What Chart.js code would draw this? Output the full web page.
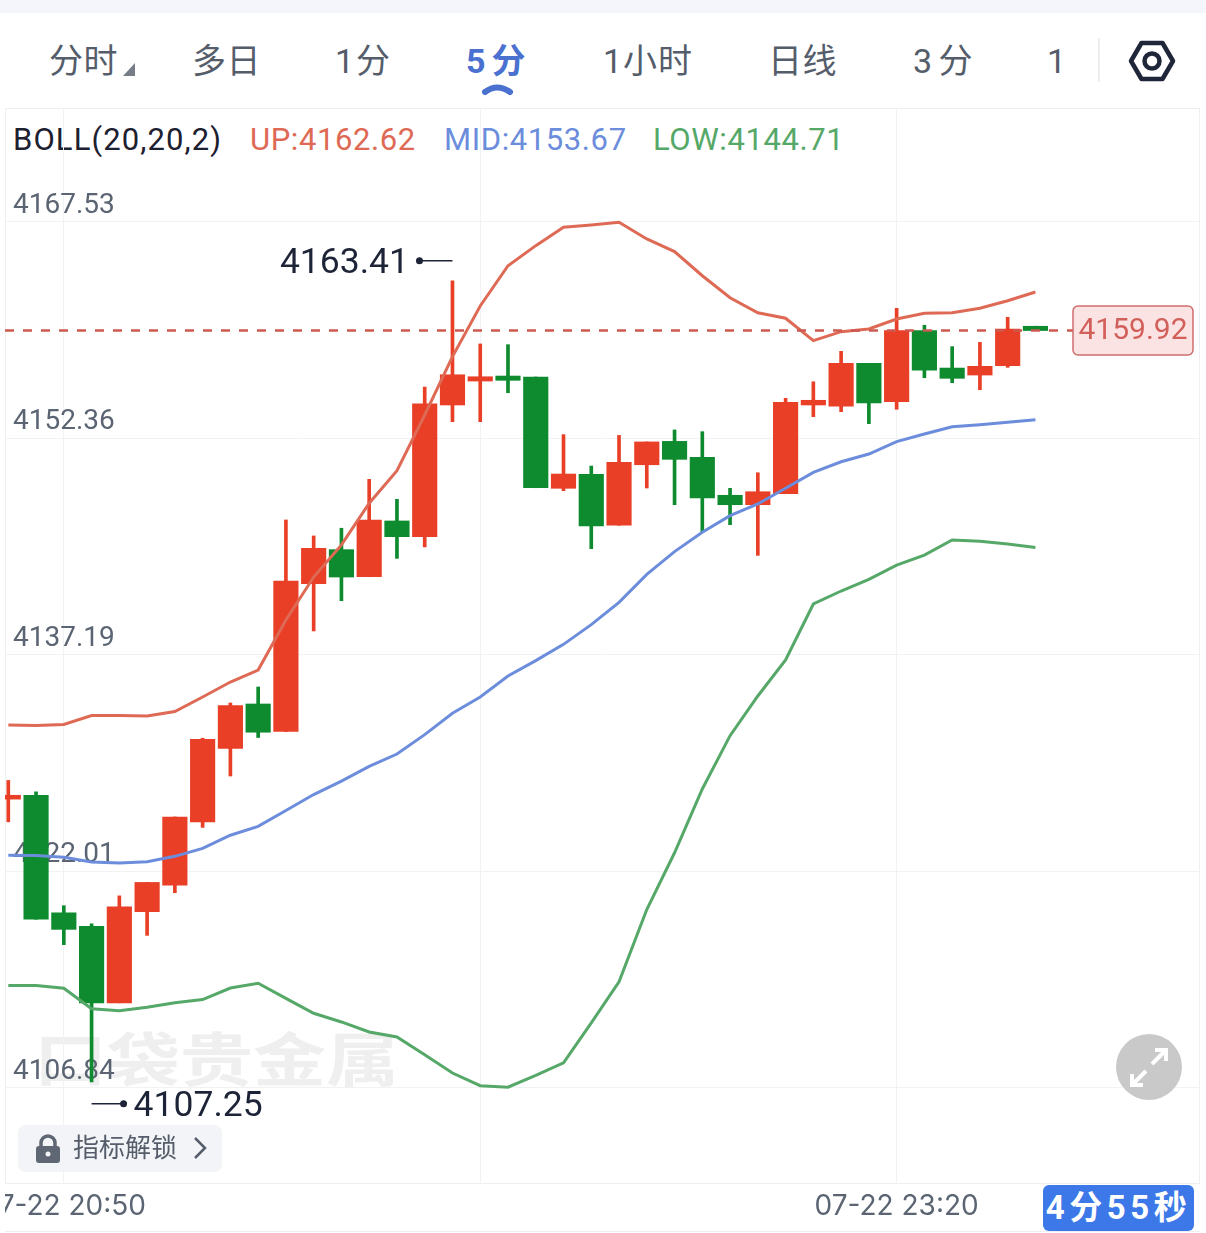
<!DOCTYPE html>
<html>
<head>
<meta charset="utf-8">
<script src="https://cdn.jsdelivr.net/npm/chart.js@4/dist/chart.umd.min.js"></script>
<style>
  html, body { margin: 0; padding: 0; background: #fff; }
  body { position: relative; width: 1206px; height: 1233px; overflow: hidden;
         font-family: Roboto, "Noto Sans CJK SC", sans-serif; }
  .abs { position: absolute; white-space: nowrap; }
  .topstrip { left: 0; top: 0; width: 1206px; height: 13px; background: #f4f6fb; }
  .tab { top: 38px; line-height: 46px; font-size: 34px; color: #555d6b; letter-spacing: 0.5px; }
  .tab.active { color: #4a70d0; font-weight: 700; letter-spacing: 6px; }
  .legend { top: 121px; line-height: 38px; font-size: 31px; letter-spacing: 0.6px; }
  .watermark { left: 34px; top: 1017px; font-size: 73px; line-height: 88px; font-weight: 700;
               color: #efefef; transform: scaleY(0.8); }
  .unlock { left: 18px; top: 1125px; width: 204px; height: 47px; border-radius: 7px; background: #f3f4f7; }
  .unlock span { position: absolute; left: 55px; top: 0; line-height: 47px; font-size: 26px; color: #555d6b; }
  .timer { left: 1043px; top: 1185px; width: 151px; height: 46px; border-radius: 6px; background: #3c78e8;
           color: #fff; font-weight: 700; font-size: 33px; line-height: 46px; text-align: center; letter-spacing: 4.5px; }
  .baseline { left: 5px; top: 1231px; width: 1195px; height: 1px; background: #eceef1; }
  canvas { position: absolute; left: 5px; top: 108px; }
  svg { position: absolute; left: 0; top: 0; }
</style>
</head>
<body>
<div class="abs topstrip"></div>
<div class="abs watermark">口袋贵金属</div>

<div class="abs tab" style="left:49px">分时</div>
<div class="abs tab" style="left:192px">多日</div>
<div class="abs tab" style="left:335px;letter-spacing:2px">1分</div>
<div class="abs tab active" style="left:466px">5分</div>
<div class="abs tab" style="left:603px;letter-spacing:1px">1小时</div>
<div class="abs tab" style="left:768px">日线</div>
<div class="abs tab" style="left:913px;letter-spacing:6.5px">3分</div>
<div class="abs tab" style="left:1047px">1</div>

<div class="abs legend" style="left:13px;color:#1c2030;letter-spacing:1.1px">BOLL(20,20,2)</div>
<div class="abs legend" style="left:250px;color:#de6a55">UP:4162.62</div>
<div class="abs legend" style="left:444px;color:#6c8cdc">MID:4153.67</div>
<div class="abs legend" style="left:653px;color:#55a868">LOW:4144.71</div>

<canvas id="kline" width="1195" height="1125"></canvas>

<div class="abs unlock"><span>指标解锁</span></div>
<div class="abs baseline"></div>
<div class="abs timer">4分55秒</div>

<svg width="1206" height="1233" fill="none">
  <!-- dropdown marker, tab separator, active tab marker -->
  <path d="M123 76 L135 76 L135 63 Z" fill="#777d88"/>
  <line x1="1099" y1="38" x2="1099" y2="82" stroke="#eeeeee" stroke-width="2"/>
  <path d="M485 92 Q497 83 510 92" stroke="#4a70d0" stroke-width="6" stroke-linecap="round"/>
  <!-- settings -->
  <path d="M1131 61 L1141.5 43 L1162.5 43 L1173 61 L1162.5 79 L1141.5 79 Z" stroke="#20263a" stroke-width="4.5" stroke-linejoin="round"/>
  <circle cx="1152" cy="61" r="7.5" stroke="#20263a" stroke-width="4.5"/>
  <!-- lock and chevron in the unlock button -->
  <path d="M41 1147 V1143 A7 7 0 0 1 55 1143 V1147" stroke="#5f6775" stroke-width="3.5"/>
  <rect x="36" y="1146" width="24" height="17" rx="3" fill="#5f6775"/>
  <circle cx="48" cy="1154" r="2.5" fill="#f3f4f7"/>
  <path d="M195 1138 L205 1148 L195 1158" stroke="#555d6b" stroke-width="2.5"/>
  <!-- fullscreen button -->
  <circle cx="1149" cy="1067" r="33" fill="#c9c9c9"/>
  <path d="M1155 1050 H1166 V1061 M1166 1050 L1152 1064 M1132 1074 V1085 H1143 M1132 1085 L1146 1071" stroke="#fff" stroke-width="4"/>
</svg>

<script>
// 5 minute candles, oldest first
const opens = [4127.07, 4127.34, 4119.10, 4118.16, 4112.79, 4119.18, 4121.03, 4125.48, 4130.63, 4133.74,
  4131.81, 4142.17, 4144.56, 4142.66, 4146.57, 4145.47, 4154.70, 4156.38, 4156.73, 4156.66,
  4148.86, 4149.84, 4146.27, 4150.51, 4152.15, 4151.03, 4148.37, 4147.71, 4148.48, 4154.70,
  4154.61, 4157.62, 4154.93, 4159.91, 4157.29, 4156.80, 4157.45, 4160.22];
const highs = [4128.38, 4127.58, 4119.60, 4118.32, 4120.29, 4121.23, 4125.82, 4131.34, 4133.81, 4134.93,
  4146.64, 4145.52, 4146.06, 4149.49, 4148.09, 4155.96, 4163.41, 4158.98, 4158.93, 4156.66,
  4152.62, 4150.42, 4152.57, 4152.11, 4152.95, 4152.83, 4148.86, 4149.95, 4155.17, 4156.33,
  4158.46, 4157.62, 4161.48, 4160.29, 4158.79, 4159.09, 4160.85, 4160.22];
const lows = [4125.48, 4118.65, 4116.87, 4107.25, 4112.79, 4117.52, 4120.51, 4125.09, 4128.69, 4131.39,
  4131.81, 4138.86, 4140.98, 4142.66, 4143.95, 4144.75, 4153.53, 4153.53, 4155.56, 4148.90,
  4148.69, 4144.63, 4146.27, 4148.88, 4147.71, 4145.82, 4146.31, 4144.16, 4148.48, 4153.88,
  4154.23, 4153.39, 4154.40, 4156.61, 4156.26, 4155.77, 4157.34, 4159.92];
const closes = [4127.34, 4118.65, 4117.94, 4112.79, 4119.52, 4121.23, 4125.82, 4131.26, 4133.62, 4131.76,
  4142.36, 4144.65, 4142.64, 4146.64, 4145.47, 4154.79, 4156.82, 4156.68, 4156.43, 4148.90,
  4149.86, 4146.22, 4150.68, 4152.11, 4150.89, 4148.18, 4147.71, 4148.62, 4154.89, 4155.03,
  4157.62, 4154.84, 4159.91, 4157.15, 4156.57, 4157.41, 4160.03, 4159.92];

// BOLL(20,20,2) bands
const bollUp = [4132.27, 4132.23, 4132.30, 4132.93, 4132.93, 4132.90, 4133.21, 4134.23, 4135.28, 4136.12,
  4139.63, 4142.64, 4144.89, 4147.81, 4150.09, 4154.00, 4158.09, 4161.64, 4164.46, 4165.87,
  4167.16, 4167.32, 4167.51, 4166.34, 4165.45, 4163.76, 4162.22, 4161.17, 4160.78, 4159.21,
  4159.84, 4160.03, 4160.73, 4161.13, 4161.17, 4161.48, 4162.01, 4162.62];
const bollMid = [4123.13, 4123.11, 4122.99, 4122.66, 4122.59, 4122.68, 4123.06, 4123.62, 4124.54, 4125.16,
  4126.27, 4127.39, 4128.33, 4129.37, 4130.23, 4131.59, 4133.09, 4134.23, 4135.70, 4136.78,
  4137.92, 4139.30, 4140.86, 4142.82, 4144.42, 4145.78, 4146.94, 4147.76, 4148.86, 4149.98,
  4150.72, 4151.26, 4152.13, 4152.67, 4153.18, 4153.32, 4153.49, 4153.67];
const bollLow = [4114.01, 4114.01, 4113.81, 4112.38, 4112.23, 4112.48, 4112.79, 4113.02, 4113.83, 4114.16,
  4113.10, 4112.06, 4111.45, 4110.75, 4110.40, 4109.15, 4107.87, 4106.98, 4106.88, 4107.70,
  4108.59, 4111.38, 4114.27, 4119.33, 4123.31, 4127.78, 4131.52, 4134.30, 4136.83, 4140.75,
  4141.66, 4142.48, 4143.48, 4144.18, 4145.24, 4145.14, 4144.96, 4144.71];

const yTicks = [4167.53, 4152.36, 4137.19, 4122.01, 4106.84];
const xTicks = [2, 17, 32];
const xTickLabels = ['07-22 20:50', '', '07-22 23:20'];
const lastPrice = 4159.92;
const highIndex = 16;
const lowIndex = 3;

const UP_COLOR = '#e83f26';
const DOWN_COLOR = '#0d8b2e';
const X_MIN = -0.119;
const X_MAX = 42.928;
const candleColors = closes.map((c, i) => (c >= opens[i] ? UP_COLOR : DOWN_COLOR));
const toPoints = (arr) => arr.map((y, x) => ({ x, y }));
const toRanges = (a, b) => a.map((v, x) => ({ x, y: [v, b[x]] }));

// scales keep the plot flush with the canvas, labels may overflow it
const clearScalePadding = (scale) => {
  scale.paddingLeft = scale.paddingRight = scale.paddingTop = scale.paddingBottom = 0;
};

// high/low callouts, last price tag and the plot frame
const overlayPlugin = {
  id: 'overlay',
  beforeDraw(chart) {
    const { ctx, chartArea: a } = chart;
    ctx.save();
    ctx.strokeStyle = '#eeeff2';
    ctx.lineWidth = 1;
    ctx.strokeRect(a.left + 0.5, a.top + 0.5, a.width - 1, a.height - 1);
    ctx.restore();
  },
  afterDatasetsDraw(chart) {
    const { ctx, scales: { x, y } } = chart;
    ctx.save();
    ctx.font = '35.5px Roboto';
    ctx.textBaseline = 'middle';
    ctx.fillStyle = ctx.strokeStyle = '#1e2438';
    ctx.lineWidth = 1.5;

    const hx = x.getPixelForValue(highIndex);
    const hy = y.getPixelForValue(highs[highIndex]) - 20;
    ctx.textAlign = 'right';
    ctx.fillText(highs[highIndex].toFixed(2), hx - 43.5, hy + 3);
    ctx.beginPath();
    ctx.moveTo(hx - 33, hy);
    ctx.lineTo(hx, hy);
    ctx.stroke();
    ctx.beginPath();
    ctx.arc(hx - 33, hy, 3.5, 0, Math.PI * 2);
    ctx.fill();

    const lx = x.getPixelForValue(lowIndex);
    const ly = y.getPixelForValue(lows[lowIndex]) + 22;
    ctx.textAlign = 'left';
    ctx.fillText(lows[lowIndex].toFixed(2), lx + 42, ly + 3);
    ctx.beginPath();
    ctx.moveTo(lx, ly);
    ctx.lineTo(lx + 32, ly);
    ctx.stroke();
    ctx.beginPath();
    ctx.arc(lx + 32, ly, 3.5, 0, Math.PI * 2);
    ctx.fill();

    const py = y.getPixelForValue(lastPrice);
    const tagLeft = 1068;
    ctx.beginPath();
    ctx.roundRect(tagLeft, py - 24.5, 120, 49, 5);
    ctx.fillStyle = '#fbe3e3';
    ctx.fill();
    ctx.strokeStyle = '#cf6d6d';
    ctx.lineWidth = 1.5;
    ctx.stroke();
    ctx.font = '30px Roboto';
    ctx.textAlign = 'center';
    ctx.fillStyle = '#d2605a';
    ctx.fillText(lastPrice.toFixed(2), tagLeft + 60, py + 1);
    ctx.restore();
  },
};

new Chart(document.getElementById('kline'), {
  data: {
    datasets: [
      { type: 'line', data: toPoints(bollUp), borderColor: '#de6a55', borderWidth: 3, pointRadius: 0, tension: 0, order: 1 },
      { type: 'line', data: toPoints(bollMid), borderColor: '#6c8cdc', borderWidth: 3, pointRadius: 0, tension: 0, order: 1 },
      { type: 'line', data: toPoints(bollLow), borderColor: '#55a868', borderWidth: 3, pointRadius: 0, tension: 0, order: 1 },
      {
        type: 'line',
        data: [{ x: X_MIN, y: lastPrice }, { x: 38.35, y: lastPrice }],
        borderColor: '#cc5a50',
        borderWidth: 2.5,
        borderDash: [9, 9],
        pointRadius: 0,
        order: 0,
      },
      { type: 'bar', data: toRanges(opens, closes), backgroundColor: candleColors, barThickness: 24.5, grouped: false, order: 2 },
      { type: 'bar', data: toRanges(lows, highs), backgroundColor: candleColors, barThickness: 3, grouped: false, order: 3 },
    ],
  },
  options: {
    responsive: false,
    animation: false,
    layout: { autoPadding: false },
    plugins: { legend: { display: false }, tooltip: { enabled: false } },
    scales: {
      x: {
        type: 'linear',
        min: X_MIN,
        max: X_MAX,
        offset: false,
        grid: { color: '#f1f2f4', drawTicks: false, offset: false },
        border: { display: false },
        afterBuildTicks: (scale) => { scale.ticks = xTicks.map((value) => ({ value })); },
        afterFit: (scale) => { scale.height = 49; clearScalePadding(scale); },
        ticks: {
          autoSkip: false,
          maxRotation: 0,
          padding: 6,
          color: '#5b6472',
          font: { family: 'Inter', size: 28 },
          callback: (value) => xTickLabels[xTicks.indexOf(value)],
        },
      },
      y: {
        type: 'linear',
        min: 4100.09,
        max: 4175.52,
        grid: { color: '#f1f2f4', drawTicks: false },
        border: { display: false },
        afterBuildTicks: (scale) => { scale.ticks = yTicks.map((value) => ({ value })); },
        afterFit: (scale) => { scale.width = 0; clearScalePadding(scale); },
        ticks: {
          mirror: true,
          padding: 8,
          labelOffset: -16,
          color: '#5b6472',
          font: { family: 'Roboto', size: 28 },
          callback: (value) => value.toFixed(2),
        },
      },
    },
  },
  plugins: [overlayPlugin],
});
</script>
</body>
</html>
